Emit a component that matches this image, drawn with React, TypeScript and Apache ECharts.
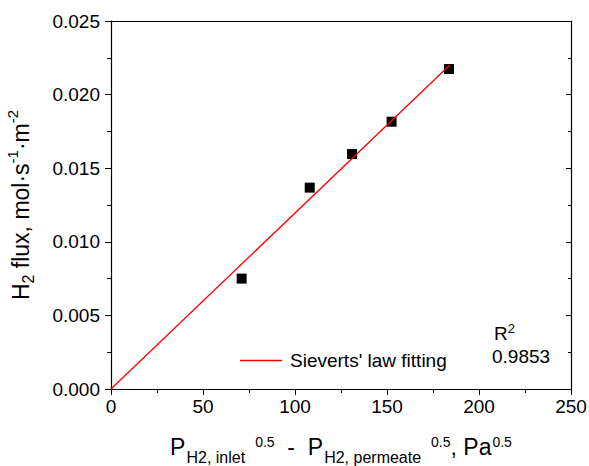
import React, { useEffect, useRef } from "react";
import * as echarts from "echarts";

const xValues = [71.0, 108.0, 131.0, 152.5, 183.7];
const yValues = [0.0075, 0.01368, 0.01596, 0.01816, 0.02174];
const fitRange = [0, 184];
const fitName = "Sieverts' law fitting";
const r2Label = "0.9853";

const FONT = "'Liberation Sans', Arial, sans-serif";

export default function App() {
  const ref = useRef<HTMLDivElement>(null);
  useEffect(() => {
    document.body.style.margin = "0";
    const chart = echarts.init(ref.current!, null, { renderer: "svg" });
    // least-squares slope through origin
    let sxy = 0, sxx = 0;
    xValues.forEach((x, i) => { sxy += x * yValues[i]; sxx += x * x; });
    const slope = sxy / sxx;
    const fitData = fitRange.map((x) => [x, x * slope]);
    const scatterData = xValues.map((x, i) => [x, yValues[i]]);

    const base = { fontFamily: FONT, color: "#000", verticalAlign: "middle" };
    const xRich = {
      n: { ...base, fontSize: 23, lineHeight: 44 },
      sub: { ...base, fontSize: 16, lineHeight: 14, padding: [20, 0, 0, 1] },
      sup: { ...base, fontSize: 14, lineHeight: 14, padding: [0, 0, 10, 10] },
      sup0: { ...base, fontSize: 14, lineHeight: 14, padding: [0, 0, 10, 1] },
    };
    const yRich = {
      n: { ...base, fontSize: 23, lineHeight: 40 },
      sub: { ...base, fontSize: 16, lineHeight: 14, padding: [15, 0, 0, 0] },
      sup: { ...base, fontSize: 15, lineHeight: 14, padding: [0, 0, 18, 0] },
    };

    chart.setOption({
      animation: false,
      textStyle: { fontFamily: FONT },
      grid: { left: 111, right: 18, top: 21, bottom: 77, containLabel: false, outerBoundsMode: "none" },
      legend: {
        data: [fitName],
        left: 235,
        top: 346,
        icon: "rect",
        itemWidth: 42,
        itemHeight: 1.5,
        itemGap: 10,
        textStyle: { fontSize: 19, color: "#000", fontFamily: FONT, padding: [0, 0, 0, 3] },
        selectedMode: false,
      },
      xAxis: [
        {
          type: "value",
          min: 0,
          max: 250,
          interval: 50,
          position: "bottom",
          axisLine: { show: true, lineStyle: { color: "#000", width: 1.2 } },
          axisTick: { show: true, inside: false, length: 6, lineStyle: { color: "#000" } },
          minorTick: { show: true, splitNumber: 2, length: 4, lineStyle: { color: "#000" } },
          splitLine: { show: false },
          axisLabel: { fontSize: 19, color: "#000", margin: 8, fontFamily: FONT },
          name: "{n|P}{sub|H2, inlet}{sup|0.5}{n|  -  P}{sub|H2, permeate}{sup|0.5}{n|, Pa}{sup0|0.5}",
          nameLocation: "middle",
          nameGap: 36,
          nameTextStyle: { rich: xRich },
        },
        {
          type: "value",
          min: 0,
          max: 250,
          position: "top",
          axisLine: { show: true, onZero: false, lineStyle: { color: "#000", width: 1.2 } },
          axisTick: { show: false },
          axisLabel: { show: false },
          splitLine: { show: false },
        },
      ],
      yAxis: [
        {
          type: "value",
          min: 0,
          max: 0.025,
          interval: 0.005,
          position: "left",
          axisLine: { show: true, lineStyle: { color: "#000", width: 1.2 } },
          axisTick: { show: true, inside: false, length: 6, lineStyle: { color: "#000" } },
          minorTick: { show: true, splitNumber: 2, length: 4, lineStyle: { color: "#000" } },
          splitLine: { show: false },
          axisLabel: {
            fontSize: 19,
            color: "#000",
            margin: 11,
            fontFamily: FONT,
            formatter: (v: number) => v.toFixed(3),
          },
          name: "{n|H}{sub|2}{n| flux, mol·s}{sup|-1}{n|·m}{sup|-2}",
          nameLocation: "middle",
          nameGap: 70,
          nameRotate: 90,
          nameTextStyle: { rich: yRich },
        },
        {
          type: "value",
          min: 0,
          max: 0.025,
          interval: 0.005,
          position: "right",
          axisLine: { show: true, onZero: false, lineStyle: { color: "#000", width: 1.2 } },
          axisTick: { show: true, inside: true, length: 5, lineStyle: { color: "#000" } },
          minorTick: { show: true, splitNumber: 2, length: 3, lineStyle: { color: "#000" } },
          axisLabel: { show: false },
          splitLine: { show: false },
        },
      ],
      graphic: [
        {
          type: "text",
          x: 494,
          y: 333,
          style: {
            text: "{a|R}{b|2}",
            verticalAlign: "middle",
            rich: {
              a: { fontSize: 19, fontFamily: FONT, fill: "#000", lineHeight: 24, verticalAlign: "middle" },
              b: { fontSize: 13, fontFamily: FONT, fill: "#000", lineHeight: 12, verticalAlign: "middle", padding: [0, 0, 9, 0] },
            },
          },
        },
        {
          type: "text",
          x: 492,
          y: 356,
          style: { text: r2Label, fontSize: 19, fontFamily: FONT, fill: "#000", verticalAlign: "middle" },
        },
      ],
      series: [
        {
          name: fitName,
          type: "line",
          data: fitData,
          showSymbol: false,
          symbol: "none",
          lineStyle: { color: "#ff0000", width: 1.3 },
          itemStyle: { color: "#ff0000" },
          z: 3,
        },
        {
          name: "data",
          type: "scatter",
          data: scatterData,
          symbol: "rect",
          symbolSize: 10,
          itemStyle: { color: "#000", opacity: 1 },
          z: 2,
        },
      ],
    });
    return () => chart.dispose();
  }, []);
  return <div ref={ref} style={{ width: 589, height: 466, position: "absolute", left: 0, top: 0 }} />;
}
